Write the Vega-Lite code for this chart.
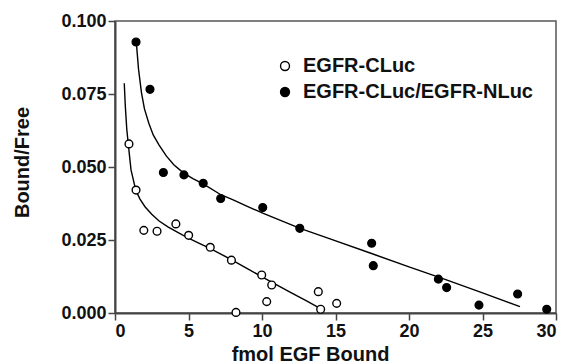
{
  "$schema": "https://vega.github.io/schema/vega-lite/v6.json",
  "width": 441,
  "height": 292,
  "autosize": {"type": "none"},
  "padding": {"left": 115, "top": 21, "right": 10, "bottom": 51},
  "background": "white",
  "config": {
    "font": "Liberation Sans",
    "view": {"stroke": "#555555", "strokeWidth": 1.5},
    "axis": {
      "domainColor": "#444444",
      "domainWidth": 2,
      "tickColor": "#444444",
      "tickWidth": 1.5,
      "tickSize": 7,
      "grid": false,
      "labelFont": "Liberation Sans",
      "labelFontWeight": "bold",
      "labelFontSize": 18,
      "labelColor": "#111111",
      "titleFont": "Liberation Sans",
      "titleFontWeight": "bold",
      "titleFontSize": 20,
      "titleColor": "#111111"
    }
  },
  "datasets": {
    "points": [
      {"series": "EGFR-CLuc", "x": 0.95, "y": 0.0579},
      {"series": "EGFR-CLuc", "x": 1.43, "y": 0.0421},
      {"series": "EGFR-CLuc", "x": 1.96, "y": 0.0283},
      {"series": "EGFR-CLuc", "x": 2.86, "y": 0.0280},
      {"series": "EGFR-CLuc", "x": 4.14, "y": 0.0305},
      {"series": "EGFR-CLuc", "x": 5.01, "y": 0.0266},
      {"series": "EGFR-CLuc", "x": 6.48, "y": 0.0225},
      {"series": "EGFR-CLuc", "x": 7.92, "y": 0.0181},
      {"series": "EGFR-CLuc", "x": 9.98, "y": 0.0130},
      {"series": "EGFR-CLuc", "x": 10.66, "y": 0.0096},
      {"series": "EGFR-CLuc", "x": 10.32, "y": 0.0039},
      {"series": "EGFR-CLuc", "x": 8.23, "y": 0.0002},
      {"series": "EGFR-CLuc", "x": 13.83, "y": 0.0073},
      {"series": "EGFR-CLuc", "x": 13.99, "y": 0.0013},
      {"series": "EGFR-CLuc", "x": 15.08, "y": 0.0033},
      {"series": "EGFR-CLuc/EGFR-NLuc", "x": 1.43, "y": 0.0928},
      {"series": "EGFR-CLuc/EGFR-NLuc", "x": 2.38, "y": 0.0766},
      {"series": "EGFR-CLuc/EGFR-NLuc", "x": 3.29, "y": 0.0481},
      {"series": "EGFR-CLuc/EGFR-NLuc", "x": 4.69, "y": 0.0473},
      {"series": "EGFR-CLuc/EGFR-NLuc", "x": 6.0, "y": 0.0444},
      {"series": "EGFR-CLuc/EGFR-NLuc", "x": 7.19, "y": 0.0392},
      {"series": "EGFR-CLuc/EGFR-NLuc", "x": 10.05, "y": 0.0361},
      {"series": "EGFR-CLuc/EGFR-NLuc", "x": 12.57, "y": 0.0290},
      {"series": "EGFR-CLuc/EGFR-NLuc", "x": 17.46, "y": 0.0239},
      {"series": "EGFR-CLuc/EGFR-NLuc", "x": 17.57, "y": 0.0162},
      {"series": "EGFR-CLuc/EGFR-NLuc", "x": 22.0, "y": 0.0116},
      {"series": "EGFR-CLuc/EGFR-NLuc", "x": 22.56, "y": 0.0087},
      {"series": "EGFR-CLuc/EGFR-NLuc", "x": 24.76, "y": 0.0027},
      {"series": "EGFR-CLuc/EGFR-NLuc", "x": 27.39, "y": 0.0065},
      {"series": "EGFR-CLuc/EGFR-NLuc", "x": 29.37, "y": 0.0013}
    ],
    "curves": [
      {"series": "open", "x": 0.63, "y": 0.0787},
      {"series": "open", "x": 0.7, "y": 0.071},
      {"series": "open", "x": 0.8, "y": 0.063},
      {"series": "open", "x": 0.91, "y": 0.0575},
      {"series": "open", "x": 1.09, "y": 0.049},
      {"series": "open", "x": 1.41, "y": 0.0421},
      {"series": "open", "x": 1.7, "y": 0.039},
      {"series": "open", "x": 2.04, "y": 0.0364},
      {"series": "open", "x": 2.5, "y": 0.0338},
      {"series": "open", "x": 3.0, "y": 0.0315},
      {"series": "open", "x": 3.6, "y": 0.0295},
      {"series": "open", "x": 4.3, "y": 0.0275},
      {"series": "open", "x": 5.0, "y": 0.0256},
      {"series": "open", "x": 5.7, "y": 0.0239},
      {"series": "open", "x": 6.46, "y": 0.0221},
      {"series": "open", "x": 7.2, "y": 0.0202},
      {"series": "open", "x": 7.94, "y": 0.0182},
      {"series": "open", "x": 9.0, "y": 0.0152},
      {"series": "open", "x": 10.0, "y": 0.0124},
      {"series": "open", "x": 11.0, "y": 0.0096},
      {"series": "open", "x": 12.0, "y": 0.0069},
      {"series": "open", "x": 13.0, "y": 0.0042},
      {"series": "open", "x": 13.95, "y": 0.0016},
      {"series": "filled", "x": 1.47, "y": 0.0915},
      {"series": "filled", "x": 1.6, "y": 0.0835},
      {"series": "filled", "x": 1.8, "y": 0.0755},
      {"series": "filled", "x": 2.0, "y": 0.070},
      {"series": "filled", "x": 2.3, "y": 0.065},
      {"series": "filled", "x": 2.6, "y": 0.061},
      {"series": "filled", "x": 3.0, "y": 0.0575},
      {"series": "filled", "x": 3.5, "y": 0.0537},
      {"series": "filled", "x": 4.0, "y": 0.0508},
      {"series": "filled", "x": 4.65, "y": 0.048},
      {"series": "filled", "x": 5.3, "y": 0.046},
      {"series": "filled", "x": 6.0, "y": 0.0442},
      {"series": "filled", "x": 7.2, "y": 0.0405},
      {"series": "filled", "x": 8.0, "y": 0.0388},
      {"series": "filled", "x": 9.0, "y": 0.0365},
      {"series": "filled", "x": 10.09, "y": 0.0341},
      {"series": "filled", "x": 12.59, "y": 0.029},
      {"series": "filled", "x": 14.63, "y": 0.0254},
      {"series": "filled", "x": 17.5, "y": 0.0203},
      {"series": "filled", "x": 20.0, "y": 0.0158},
      {"series": "filled", "x": 22.5, "y": 0.0114},
      {"series": "filled", "x": 25.0, "y": 0.0069},
      {"series": "filled", "x": 27.55, "y": 0.0022}
    ]
  },
  "layer": [
    {
      "data": {"name": "curves"},
      "mark": {"type": "line", "color": "black", "strokeWidth": 1.4},
      "encoding": {
        "x": {"field": "x", "type": "quantitative", "scale": {"domain": [0, 30], "nice": false},
              "axis": {"title": "fmol EGF Bound", "values": [0, 5, 10, 15, 20, 25, 30], "labelPadding": 2, "titleX": 195, "titleY": 47, "titleBaseline": "alphabetic", "titleAnchor": null}},
        "y": {"field": "y", "type": "quantitative", "scale": {"domain": [0, 0.1], "nice": false},
              "axis": {"title": "Bound/Free", "values": [0, 0.025, 0.05, 0.075, 0.1], "format": ".3f", "labelPadding": 2, "titleX": -87, "titleY": 141, "titleAngle": -90, "titleBaseline": "alphabetic", "titleAlign": "center"}},
        "detail": {"field": "series"}
      }
    },
    {
      "data": {"name": "points"},
      "mark": {"type": "point", "shape": "circle", "filled": true, "stroke": "black", "strokeWidth": 1.4, "size": 60, "opacity": 1},
      "encoding": {
        "x": {"field": "x", "type": "quantitative"},
        "y": {"field": "y", "type": "quantitative"},
        "fill": {
          "field": "series", "type": "nominal",
          "scale": {"domain": ["EGFR-CLuc", "EGFR-CLuc/EGFR-NLuc"], "range": ["white", "black"]},
          "legend": {
            "title": null,
            "orient": "none",
            "legendX": 160,
            "legendY": 35,
            "symbolType": "circle",
            "symbolSize": 80,
            "symbolStrokeColor": "black",
            "symbolStrokeWidth": 1.4,
            "labelFont": "Liberation Sans",
            "labelFontWeight": "bold",
            "labelFontSize": 20,
            "labelColor": "#111111",
            "labelOffset": 8,
            "labelLimit": 400,
            "rowPadding": 6
          }
        }
      }
    }
  ]
}
